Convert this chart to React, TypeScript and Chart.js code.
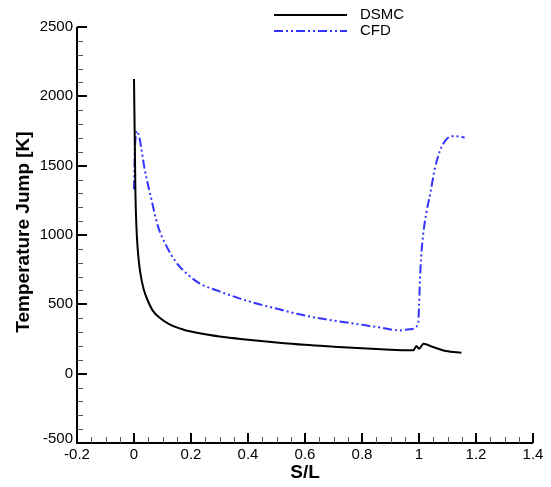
import React, { useEffect, useRef } from "react";
import { Chart, registerables } from "chart.js";

Chart.register(...registerables);

const dsmcX = [0, 0.0025, 0.005, 0.0084, 0.014, 0.022, 0.034, 0.049, 0.067, 0.09, 0.125, 0.172, 0.23, 0.3, 0.4, 0.5, 0.6, 0.7, 0.8, 0.9, 0.95, 0.98, 0.991, 1.0, 1.016, 1.049, 1.096, 1.149];
const dsmcY = [2125, 1713, 1305, 1064, 872, 728, 608, 524, 451, 404, 356, 319, 291, 268, 245, 225, 208, 195, 183, 173, 169, 168, 199, 180, 216, 192, 163, 151];

const cfdX = [0, 0.003, 0.0105, 0.02, 0.0375, 0.061, 0.084, 0.114, 0.149, 0.195, 0.23, 0.3, 0.37, 0.44, 0.51, 0.58, 0.65, 0.72, 0.79, 0.86, 0.932, 0.967, 0.997, 1.0, 1.005, 1.014, 1.026, 1.04, 1.055, 1.073, 1.096, 1.125, 1.16];
const cfdY = [1330, 1600, 1750, 1690, 1473, 1257, 1064, 920, 800, 704, 651, 593, 543, 500, 464, 428, 399, 377, 356, 334, 312, 320, 355, 488, 752, 992, 1161, 1305, 1473, 1605, 1690, 1713, 1702];

const xTicks = [-0.2, 0, 0.2, 0.4, 0.6, 0.8, 1, 1.2, 1.4];
const yTicks = [-500, 0, 500, 1000, 1500, 2000, 2500];
const xMinorStep = 0.05;
const yMinorStep = 100;

const seriesNames = ["DSMC", "CFD"];
const xTitle = "S/L";
const yTitle = "Temperature Jump [K]";

const FONT = "'Liberation Sans', Arial, sans-serif";
const CFD_COLOR = "#3333ff";
const CFD_DASH = [9, 3, 2, 3, 2, 3];

const axesPlugin = {
  id: "tecplotAxes",
  afterDraw(chart: any) {
    const ctx = chart.ctx;
    const xs = chart.scales.x;
    const ys = chart.scales.y;
    const area = chart.chartArea;
    ctx.save();
    ctx.strokeStyle = "#000";
    ctx.lineWidth = 2;
    ctx.beginPath();
    ctx.moveTo(area.left, area.top);
    ctx.lineTo(area.left, area.bottom);
    ctx.lineTo(area.right, area.bottom);
    ctx.stroke();

    ctx.lineWidth = 1;
    ctx.strokeStyle = "#555";
    const xMin = xTicks[0], xMax = xTicks[xTicks.length - 1];
    for (let i = 0; ; i++) {
      const v = xMin + i * xMinorStep;
      if (v > xMax + 1e-9) break;
      const px = Math.round(xs.getPixelForValue(v)) + 0.5;
      ctx.beginPath();
      ctx.moveTo(px, area.bottom);
      ctx.lineTo(px, area.bottom - 6);
      ctx.stroke();
    }
    const yMin = yTicks[0], yMax = yTicks[yTicks.length - 1];
    for (let i = 0; ; i++) {
      const v = yMin + i * yMinorStep;
      if (v > yMax + 1e-9) break;
      const py = Math.round(ys.getPixelForValue(v)) + 0.5;
      ctx.beginPath();
      ctx.moveTo(area.left, py);
      ctx.lineTo(area.left + 6, py);
      ctx.stroke();
    }

    ctx.lineWidth = 2;
    ctx.strokeStyle = "#000";
    ctx.fillStyle = "#000";
    ctx.font = `15px ${FONT}`;
    ctx.textAlign = "center";
    ctx.textBaseline = "top";
    xTicks.forEach((v) => {
      const px = Math.round(xs.getPixelForValue(v));
      ctx.beginPath();
      ctx.moveTo(px, area.bottom);
      ctx.lineTo(px, area.bottom - 10);
      ctx.stroke();
      ctx.fillText(String(v), px, area.bottom + 4);
    });
    ctx.textAlign = "right";
    ctx.textBaseline = "middle";
    yTicks.forEach((v) => {
      const py = Math.round(ys.getPixelForValue(v));
      ctx.beginPath();
      ctx.moveTo(area.left, py);
      ctx.lineTo(area.left + 10, py);
      ctx.stroke();
      ctx.fillText(String(v), area.left - 4, v === yMin ? py - 4 : py);
    });

    ctx.font = `bold 19px ${FONT}`;
    ctx.textAlign = "center";
    ctx.textBaseline = "alphabetic";
    ctx.fillText(xTitle, (area.left + area.right) / 2, 478);
    ctx.save();
    ctx.translate(29, (area.top + area.bottom) / 2 - 3);
    ctx.rotate(-Math.PI / 2);
    ctx.fillText(yTitle, 0, 0);
    ctx.restore();

    ctx.lineWidth = 2;
    ctx.strokeStyle = "#000";
    ctx.setLineDash([]);
    ctx.beginPath();
    ctx.moveTo(274, 15);
    ctx.lineTo(347, 15);
    ctx.stroke();
    ctx.strokeStyle = CFD_COLOR;
    ctx.setLineDash(CFD_DASH);
    ctx.beginPath();
    ctx.moveTo(274, 31);
    ctx.lineTo(347, 31);
    ctx.stroke();
    ctx.setLineDash([]);
    ctx.font = `15px ${FONT}`;
    ctx.textAlign = "left";
    ctx.textBaseline = "middle";
    ctx.fillStyle = "#000";
    ctx.fillText(seriesNames[0], 360, 15);
    ctx.fillText(seriesNames[1], 360, 31);
    ctx.restore();
  },
};

export default function App() {
  const ref = useRef<HTMLCanvasElement | null>(null);
  useEffect(() => {
    if (!ref.current) return;
    const chart = new Chart(ref.current, {
      type: "line",
      data: {
        datasets: [
          {
            label: seriesNames[0],
            data: dsmcX.map((x, i) => ({ x, y: dsmcY[i] })),
            borderColor: "#000",
            borderWidth: 2,
            pointRadius: 0,
            cubicInterpolationMode: "monotone",
            fill: false,
          },
          {
            label: seriesNames[1],
            data: cfdX.map((x, i) => ({ x, y: cfdY[i] })),
            borderColor: CFD_COLOR,
            borderWidth: 2,
            borderDash: CFD_DASH,
            pointRadius: 0,
            cubicInterpolationMode: "monotone",
            fill: false,
          },
        ],
      },
      options: {
        responsive: false,
        animation: false,
        layout: { padding: { left: 77, right: 18, top: 27, bottom: 44 } },
        plugins: { legend: { display: false }, tooltip: { enabled: false } },
        scales: {
          x: { type: "linear", min: xTicks[0], max: xTicks[xTicks.length - 1], display: false },
          y: { type: "linear", min: yTicks[0], max: yTicks[yTicks.length - 1], display: false },
        },
      },
      plugins: [axesPlugin],
    });
    return () => chart.destroy();
  }, []);
  return (
    <div style={{ position: "fixed", left: 0, top: 0, width: 551, height: 487, background: "#fff" }}>
      <canvas ref={ref} width={551} height={487} style={{ width: 551, height: 487 }} />
    </div>
  );
}
